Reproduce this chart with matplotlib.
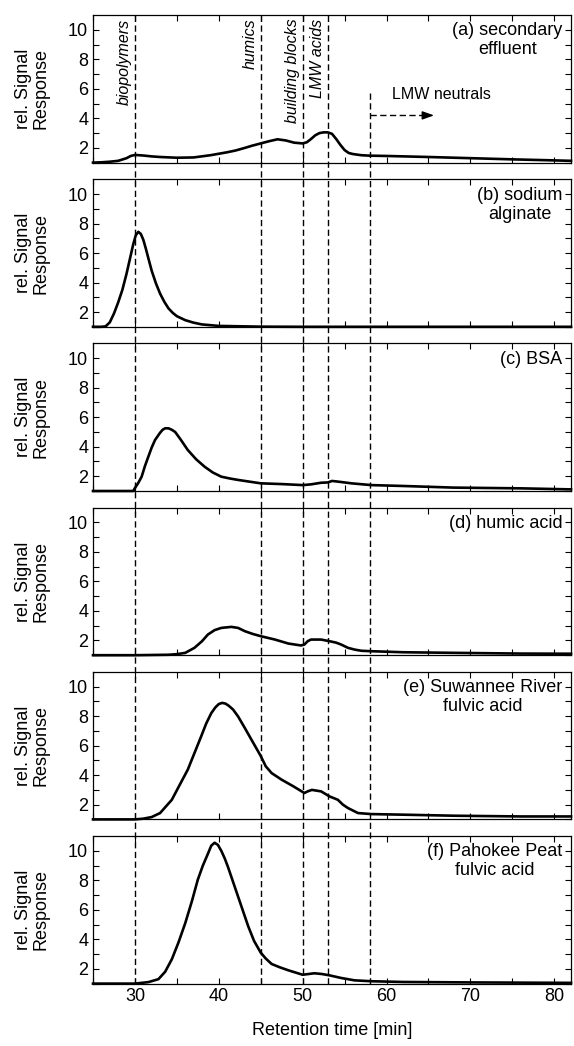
import numpy as np
import matplotlib
matplotlib.use("Agg")
import matplotlib.pyplot as plt

plt.rcParams['font.family'] = ['Liberation Sans', 'DejaVu Sans']

# retention time / signal
x_a = [25, 26, 27, 28, 29, 29.5, 30, 30.5, 31, 32, 33, 35, 37, 39, 40, 41, 42, 43, 44, 45, 46, 47, 48, 49,
       50, 50.5, 51, 51.5, 52, 52.5, 53, 53.5, 54, 54.5, 55, 55.5, 56, 57, 58, 60, 65, 70, 75, 80, 82]
y_a = [1.0, 1.02, 1.06, 1.12, 1.3, 1.45, 1.52, 1.5, 1.48, 1.42, 1.38, 1.33, 1.35, 1.5, 1.6, 1.7, 1.82, 1.98, 2.15,
       2.3, 2.45, 2.58, 2.5, 2.35, 2.3, 2.38, 2.6, 2.85, 3.0, 3.05, 3.05, 2.95, 2.6, 2.2, 1.85, 1.65, 1.58, 1.5,
       1.47, 1.45, 1.38, 1.3, 1.22, 1.15, 1.12]

x_b = [25, 26, 26.5, 27, 27.5, 28, 28.5, 29, 29.5, 29.8, 30.1, 30.4, 30.7, 31.0, 31.3, 31.6, 32, 32.5, 33, 33.5,
       34, 34.5, 35, 36, 37, 38, 40, 45, 50, 60, 70, 82]
y_b = [1.0, 1.0, 1.03, 1.3, 1.9, 2.65, 3.5, 4.6, 5.85, 6.6, 7.2, 7.44, 7.3, 6.9, 6.3, 5.65, 4.8, 3.95, 3.25, 2.7,
       2.25, 1.95, 1.72, 1.45, 1.28, 1.16, 1.06, 1.01, 1.0, 1.0, 1.0, 1.0]

x_c = [25, 29.8, 30, 30.4, 30.8, 31.2, 31.6, 32, 32.4, 33, 33.3, 33.6, 34.0, 34.4, 34.8, 35.5, 36.3, 37.3, 38.3,
       39.3, 40.3, 41.3, 42.3, 45, 47.5, 50, 51, 52.2, 53, 53.5, 54, 55, 55.8, 58.2, 62, 68, 76, 82]
y_c = [1.0, 1.0, 1.2, 1.55, 1.97, 2.7, 3.33, 3.95, 4.46, 4.95, 5.15, 5.25, 5.25, 5.15, 5.0, 4.45, 3.78, 3.15, 2.65,
       2.25, 1.97, 1.85, 1.75, 1.52, 1.47, 1.4, 1.45, 1.56, 1.58, 1.68, 1.65, 1.58, 1.52, 1.4, 1.34, 1.23, 1.18, 1.11]

x_d = [25, 30, 34, 35, 36, 37.1, 38, 38.7, 39.5, 40.3, 41.5, 42.3, 43.1, 44, 45, 46.7, 48.3, 49.8, 50.2, 50.6,
       51, 52.2, 53.2, 54, 54.6, 55.4, 56.2, 57, 58.2, 62, 68, 76, 82]
y_d = [1.0, 1.0, 1.03, 1.07, 1.16, 1.5, 1.95, 2.4, 2.7, 2.85, 2.92, 2.85, 2.63, 2.45, 2.29, 2.06, 1.79, 1.66,
       1.72, 1.95, 2.06, 2.06, 1.95, 1.85, 1.72, 1.5, 1.38, 1.3, 1.27, 1.2, 1.16, 1.11, 1.1]

x_e = [25, 30, 31, 32, 33, 34.4, 35.3, 36.3, 37.1, 37.9, 38.5, 39.1, 39.6, 40.0, 40.4, 40.8, 41.2, 41.7, 42.3,
       43.1, 43.9, 45, 45.6, 46.3, 47.5, 48.9, 50.2, 50.6, 51.1, 52.2, 53.2, 54.2, 54.8, 55.4, 56.6, 58.2, 62, 68,
       76, 82]
y_e = [1.0, 1.0, 1.05, 1.16, 1.43, 2.33, 3.3, 4.37, 5.5, 6.63, 7.5, 8.2, 8.6, 8.82, 8.9, 8.85, 8.7, 8.45, 7.98,
       7.2, 6.4, 5.3, 4.6, 4.14, 3.69, 3.24, 2.79, 2.9, 3.0, 2.9, 2.56, 2.33, 2.0, 1.77, 1.43, 1.36, 1.32, 1.25,
       1.2, 1.2]

x_f = [25, 30, 31.6, 32.8, 33.6, 34.4, 35.2, 36, 36.8, 37.5, 38.1, 38.7, 39.1, 39.5, 39.9, 40.3, 40.7, 41.1, 41.7,
       42.3, 42.9, 43.5, 44.2, 45, 45.6, 46.3, 47.3, 48.3, 50, 50.7, 51.4, 52.3, 53.2, 54.6, 56.2, 58.2, 62, 70, 82]
y_f = [1.0, 1.0, 1.1, 1.3, 1.8, 2.65, 3.8, 5.1, 6.6, 8.05, 9.0, 9.8, 10.35, 10.55, 10.4, 10.0, 9.5, 8.9, 7.9, 6.9,
       5.9, 4.9, 3.9, 3.1, 2.7, 2.33, 2.1, 1.9, 1.6, 1.65, 1.7, 1.65, 1.56, 1.38, 1.22, 1.16, 1.11, 1.08, 1.05]

labels = ["(a) secondary\neffluent", "(b) sodium\nalginate", "(c) BSA", "(d) humic acid",
          "(e) Suwannee River\nfulvic acid", "(f) Pahokee Peat\nfulvic acid"]
series = [(x_a, y_a), (x_b, y_b), (x_c, y_c), (x_d, y_d), (x_e, y_e), (x_f, y_f)]

# fraction boundaries
bounds = [30, 45, 50, 53]
fraction_names = ["biopolymers", "humics", "building blocks", "LMW acids"]
lmw_neutral_start = 58

fig = plt.figure(figsize=(5.74, 10.46), dpi=100)

W, H = 574.0, 1046.0
left, width = 93 / W, 478 / W
h = 147.5 / H
pitch = 164.2 / H
top = 1 - 15.1 / H

axes = []
for i, ((xs, ys), lab) in enumerate(zip(series, labels)):
    ax = fig.add_axes([left, top - h - i * pitch, width, h])
    ax.plot(xs, ys, color='black', lw=1.9, clip_on=False, zorder=3)
    ax.set_xlim(25, 82)
    ax.set_ylim(1, 11)
    ax.set_xticks(np.arange(30, 81, 10))
    ax.set_xticks(np.arange(25, 82, 5), minor=True)
    ax.set_yticks([2, 4, 6, 8, 10])
    ax.set_yticks(np.arange(1, 11, 1), minor=True)
    ax.tick_params(which='both', direction='in', top=True, right=True, length=4, width=0.8, labelsize=13)
    for s in ax.spines.values():
        s.set_linewidth(0.9)
    if i < 5:
        ax.tick_params(labelbottom=False)
    ax.set_ylabel("rel. Signal\nResponse", fontsize=13, linespacing=1.1)
    ax.yaxis.set_label_coords(-0.09, 0.5)
    ax.text(0.982, 0.95, lab, transform=ax.transAxes, ha='right', va='top',
            multialignment='center', fontsize=13, linespacing=1.15)
    axes.append(ax)

axes[-1].set_xlabel("Retention time [min]", fontsize=13, labelpad=12)

# fraction names in top panel
ax0 = axes[0]
for b, name in zip(bounds, fraction_names):
    ax0.text(b - 0.35, 10.75, name, rotation=90, ha='right', va='top', style='italic', fontsize=11.5)
ax0.text(60.6, 5.6, "LMW neutrals", ha='left', va='center', fontsize=11.5)
ax0.plot([lmw_neutral_start, 64.5], [4.2, 4.2], color='black', lw=1.0, ls='--', dashes=(4.5, 2.5))
ax0.annotate("", xy=(66, 4.2), xytext=(64.3, 4.2),
             arrowprops=dict(arrowstyle='-|>,head_length=0.7,head_width=0.25', color='black', lw=1.0))

# dashed lines running through all panels
bottom = top - h - 5 * pitch
ov = fig.add_axes([left, bottom, width, top - bottom], facecolor='none')
ov.set_xlim(25, 82)
ov.set_ylim(bottom, top)
ov.axis('off')
for b in bounds:
    ov.plot([b, b], [bottom, top], color='black', lw=1.0, ls='--', dashes=(4.5, 2.5))
y58 = top - h + (5.9 - 1) / 10 * h
ov.plot([lmw_neutral_start] * 2, [bottom, y58], color='black', lw=1.0, ls='--', dashes=(4.5, 2.5))

plt.savefig("out.png", dpi=100)
